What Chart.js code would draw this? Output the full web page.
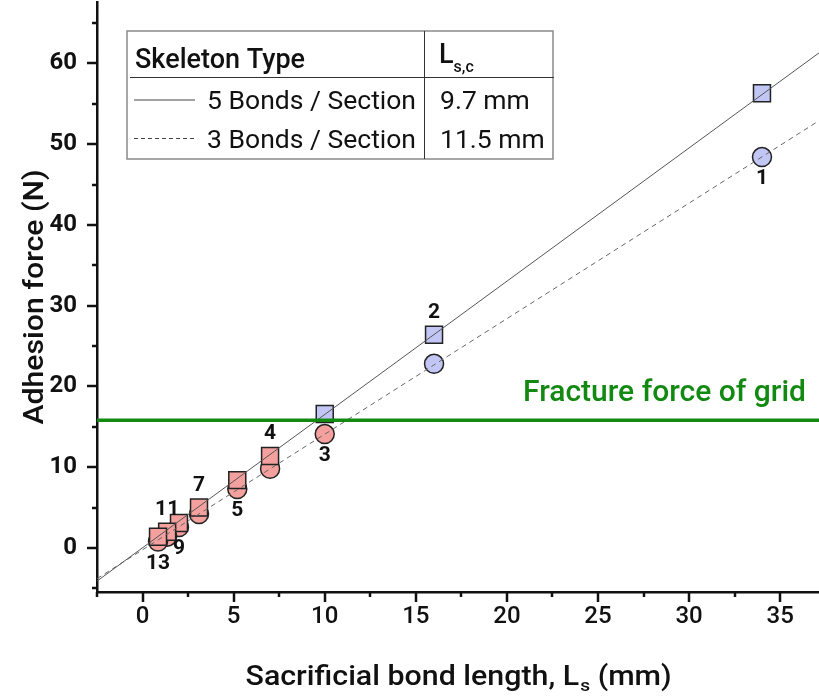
<!DOCTYPE html>
<html>
<head>
<meta charset="utf-8">
<script src="https://cdn.jsdelivr.net/npm/chart.js"></script>
<style>
  html, body { margin: 0; padding: 0; background: #fff; overflow: hidden; }
  #wrap { width: 819px; height: 699px; position: relative; }
  #wrap canvas { display: block; }
</style>
</head>
<body>
<div id="wrap"><canvas id="adhesionChart"></canvas></div>
<script>
// Valeurs
const bondLengths = [34, 16, 10, 7, 5.2, 3.1, 2.0, 1.35, 0.85];
const force5Bonds = [56.3, 26.4, 16.6, 11.4, 8.4, 5.0, 3.1, 2.0, 1.4];
const force3Bonds = [48.4, 22.8, 14.1, 9.8, 7.3, 4.2, 2.6, 1.4, 0.8];
const sampleIds = ['1', '2', '3', '4', '5', '7', '9', '11', '13'];
const labelSide = ['below', 'above', 'below', 'above', 'below', 'above', 'below', 'above', 'below'];

// Droites d'ajustement (extrémités)
const fitX = [-2.5, 37.13];
const fit5Y = [-4.1, 61.3];
const fit3Y = [-3.8, 52.9];

const fractureForce = 15.8;
const fractureLabel = 'Fracture force of grid';

// Tableau de légende
const tableHeader = ['Skeleton Type', 'L', 's,c'];
const tableRows = [
  { name: '5 Bonds / Section', value: '9.7 mm', dash: [] },
  { name: '3 Bonds / Section', value: '11.5 mm', dash: [4, 3] }
];

const xTitle = ['Sacrificial bond length, L', 's', ' (mm)'];
const yTitle = 'Adhesion force (N)';

const BLUE = '#c2c6f4';
const RED = '#f3a09e';
const GREEN = '#128a12';
const FONT = 'Roboto, "Noto Sans", sans-serif';

const colorFor = v => (v > fractureForce ? BLUE : RED);

const toPoints = (xs, ys) => xs.map((x, i) => ({ x: x, y: ys[i] }));

/**
 * Dessin des éléments annexes : graduations, titres, étiquettes, tableau
 */
const decorPlugin = {
  id: 'decor',
  afterDraw(chart) {
    const ctx = chart.ctx;
    const xs = chart.scales.x;
    const ys = chart.scales.y;
    const area = chart.chartArea;

    ctx.save();
    // Graduations
    ctx.strokeStyle = '#111';
    ctx.lineWidth = 2.5;
    ys.ticks.forEach(t => {
      const p = Math.round(ys.getPixelForValue(t.value));
      const len = t.value % 10 === 0 ? 10 : 5;
      ctx.beginPath();
      ctx.moveTo(area.left - len, p);
      ctx.lineTo(area.left, p);
      ctx.stroke();
    });
    xs.ticks.forEach(t => {
      const p = Math.round(xs.getPixelForValue(t.value));
      const len = t.value % 5 === 0 ? 10 : 5;
      ctx.beginPath();
      ctx.moveTo(p, area.bottom);
      ctx.lineTo(p, area.bottom + len);
      ctx.stroke();
    });

    // Numéros des échantillons
    ctx.fillStyle = '#111';
    ctx.font = 'bold 21px ' + FONT;
    ctx.textAlign = 'center';
    ctx.textBaseline = 'middle';
    bondLengths.forEach((x, i) => {
      const px = xs.getPixelForValue(x);
      if (labelSide[i] === 'above') {
        ctx.fillText(sampleIds[i], px, ys.getPixelForValue(force5Bonds[i]) - 22);
      } else {
        ctx.fillText(sampleIds[i], px, ys.getPixelForValue(force3Bonds[i]) + 22);
      }
    });

    // Texte de la force de rupture
    ctx.fillStyle = GREEN;
    ctx.font = '500 30px ' + FONT;
    ctx.textAlign = 'right';
    ctx.textBaseline = 'alphabetic';
    ctx.fillText(fractureLabel, 806, ys.getPixelForValue(fractureForce) - 19);

    // Titre de l'axe X (avec indice)
    ctx.fillStyle = '#111';
    ctx.textBaseline = 'alphabetic';
    ctx.textAlign = 'left';
    const big = '500 27px ' + FONT;
    const small = '500 17px ' + FONT;
    ctx.font = big;
    const w0 = ctx.measureText(xTitle[0]).width;
    const w2 = ctx.measureText(xTitle[2]).width;
    ctx.font = small;
    const w1 = ctx.measureText(xTitle[1]).width;
    const total = w0 + w1 + w2;
    const sx = 425 / total;
    ctx.save();
    ctx.translate((area.left + area.right) / 2 - 425 / 2, 685);
    ctx.scale(sx, 1);
    ctx.font = big;
    ctx.fillText(xTitle[0], 0, 0);
    ctx.font = small;
    ctx.fillText(xTitle[1], w0 + 1, 6);
    ctx.font = big;
    ctx.fillText(xTitle[2], w0 + w1 + 1, 0);
    ctx.restore();

    // Titre de l'axe Y
    ctx.save();
    ctx.font = big;
    const wy = ctx.measureText(yTitle).width;
    ctx.translate(43, (area.top + area.bottom) / 2);
    ctx.rotate(-Math.PI / 2);
    ctx.scale(255 / wy, 1);
    ctx.textAlign = 'center';
    ctx.fillText(yTitle, 0, 0);
    ctx.restore();

    // Tableau de légende
    const L = 127, T = 31, R = 553, B = 159, headY = 77, divX = 424;
    ctx.fillStyle = '#fff';
    ctx.fillRect(L, T, R - L, B - T);
    ctx.strokeStyle = '#8a8a8a';
    ctx.lineWidth = 1.5;
    ctx.strokeRect(L, T, R - L, B - T);
    ctx.strokeStyle = '#333';
    ctx.lineWidth = 1;
    ctx.beginPath();
    ctx.moveTo(130, headY + 0.5);
    ctx.lineTo(R + 1, headY + 0.5);
    ctx.moveTo(divX + 0.5, T);
    ctx.lineTo(divX + 0.5, B);
    ctx.stroke();

    ctx.fillStyle = '#111';
    ctx.textAlign = 'left';
    ctx.font = '500 27px ' + FONT;
    ctx.fillText(tableHeader[0], 135, 68);
    ctx.fillText(tableHeader[1], 439, 63);
    const wl = ctx.measureText(tableHeader[1]).width;
    ctx.font = '500 16px ' + FONT;
    ctx.fillText(tableHeader[2], 439 + wl, 72);

    ctx.font = '26.5px ' + FONT;
    tableRows.forEach((row, i) => {
      const base = 108.5 + i * 39.5;
      const lineY = 100 + i * 38.5;
      ctx.strokeStyle = '#444';
      ctx.lineWidth = 1;
      ctx.setLineDash(row.dash);
      ctx.beginPath();
      ctx.moveTo(134, lineY);
      ctx.lineTo(195, lineY);
      ctx.stroke();
      ctx.setLineDash([]);
      ctx.textAlign = 'right';
      ctx.fillText(row.name, 416, base);
      ctx.textAlign = 'left';
      ctx.fillText(row.value, 440, base);
    });
    ctx.restore();
  }
};

const ctx = document.getElementById('adhesionChart');

new Chart(ctx, {
  type: 'scatter',
  data: {
    datasets: [
      {
        label: 'fracture',
        type: 'line',
        data: toPoints(fitX, [fractureForce, fractureForce]),
        borderColor: GREEN,
        borderWidth: 3.5,
        pointRadius: 0,
        order: 0
      },
      {
        label: 'fit 5 bonds',
        type: 'line',
        data: toPoints(fitX, fit5Y),
        borderColor: '#555',
        borderWidth: 1,
        pointRadius: 0,
        order: 1
      },
      {
        label: 'fit 3 bonds',
        type: 'line',
        data: toPoints(fitX, fit3Y),
        borderColor: '#666',
        borderWidth: 1,
        borderDash: [5, 4],
        pointRadius: 0,
        order: 2
      },
      {
        label: '5 Bonds / Section',
        data: toPoints(bondLengths, force5Bonds),
        pointStyle: 'rect',
        pointRadius: 12,
        pointBackgroundColor: force5Bonds.map(colorFor),
        pointBorderColor: '#222',
        pointBorderWidth: 1.5,
        order: 3
      },
      {
        label: '3 Bonds / Section',
        data: toPoints(bondLengths, force3Bonds),
        pointStyle: 'circle',
        pointRadius: 9.5,
        pointBackgroundColor: force3Bonds.map(colorFor),
        pointBorderColor: '#222',
        pointBorderWidth: 1.5,
        order: 4
      }
    ]
  },
  options: {
    responsive: true,
    maintainAspectRatio: false,
    animation: false,
    layout: { autoPadding: false, padding: { top: 2, right: 0, left: 0, bottom: 0 } },
    plugins: {
      legend: { display: false },
      tooltip: { enabled: false }
    },
    scales: {
      x: {
        type: 'linear',
        min: -2.5,
        max: 37.13,
        afterFit: s => {
          s.height = 107;
          s.paddingLeft = 0;
          s.paddingRight = 0;
        },
        grid: { display: false, drawTicks: false },
        border: { display: true, color: '#111', width: 2.5 },
        ticks: {
          stepSize: 2.5,
          includeBounds: false,
          autoSkip: false,
          maxRotation: 0,
          padding: 11,
          color: '#111',
          font: { family: FONT, size: 24, weight: '500' },
          callback: v => (v % 5 === 0 ? String(v) : '')
        }
      },
      y: {
        type: 'linear',
        min: -5.45,
        max: 67.6,
        afterFit: s => {
          s.width = 97;
          s.paddingTop = 0;
          s.paddingBottom = 0;
        },
        grid: { display: false, drawTicks: false },
        border: { display: true, color: '#111', width: 2.5 },
        ticks: {
          stepSize: 5,
          includeBounds: false,
          autoSkip: false,
          padding: 20,
          color: '#111',
          font: { family: FONT, size: 24, weight: 'bold' },
          callback: v => (v % 10 === 0 ? String(v) : '')
        }
      }
    }
  },
  plugins: [decorPlugin]
});
</script>
</body>
</html>
